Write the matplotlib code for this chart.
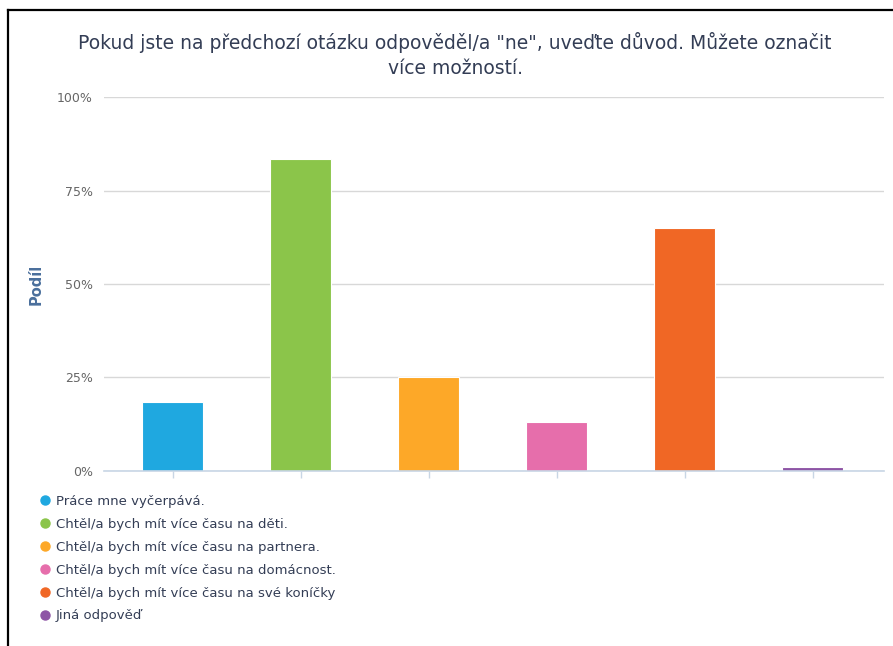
import matplotlib.pyplot as plt
from matplotlib.lines import Line2D
from matplotlib.ticker import FuncFormatter

# ── Survey data ──────────────────────────────────────────────────────────────
answers = [
    "Práce mne vyčerpává.",
    "Chtěl/a bych mít více času na děti.",
    "Chtěl/a bych mít více času na partnera.",
    "Chtěl/a bych mít více času na domácnost.",
    "Chtěl/a bych mít více času na své koníčky",
    "Jiná odpověď",
]
shares = [18.5, 83.4, 25.0, 13.0, 65.0, 1.1]
colors = ["#1fa8e0", "#8bc54a", "#fda828", "#e66eab", "#f06725", "#8e55a6"]
yticks = [0, 25, 50, 75, 100]

TITLE = ('Pokud jste na předchozí otázku odpověděl/a "ne", uveďte důvod. Můžete označit\n'
         "více možností.")

_TEXT = "#333d55"
_MUTED = "#666666"
_GRID = "#d8d8d8"
_AXIS = "#c8d6e5"

plt.rcParams["font.family"] = ["DejaVu Sans"]

fig = plt.figure(figsize=(8.93, 6.46), dpi=100)
fig.patch.set_facecolor("white")

# frame lines on the left and top edge
fig.add_artist(Line2D([8 / 893, 8 / 893], [0, 1 - 10 / 646], color="black",
                      linewidth=1.6, transform=fig.transFigure))
fig.add_artist(Line2D([8 / 893, 1], [1 - 10 / 646, 1 - 10 / 646], color="black",
                      linewidth=1.6, transform=fig.transFigure))

ax = fig.add_axes([104 / 893, 175.3 / 646, 780 / 893, 373.4 / 646])

x = list(range(len(shares)))
ax.bar(x, shares, width=0.48, color=colors, edgecolor="white", linewidth=0.8,
       zorder=3)

ax.set_xlim(-0.537, 5.557)
ax.set_ylim(0, 100)
ax.set_yticks(yticks)
ax.yaxis.set_major_formatter(FuncFormatter(lambda v, _: f"{v:.0f}%"))
ax.grid(axis="y", color=_GRID, linewidth=1.0, zorder=0)
ax.set_axisbelow(True)

for side in ("top", "right", "left"):
    ax.spines[side].set_visible(False)
ax.spines["bottom"].set_color(_AXIS)
ax.spines["bottom"].set_linewidth(1.2)
ax.spines["bottom"].set_zorder(4)

ax.set_xticks(x)
ax.set_xticklabels([])
ax.tick_params(axis="x", length=5, width=1, color=_AXIS, direction="out")
ax.tick_params(axis="y", length=0, pad=8, labelsize=9, labelcolor=_MUTED)

ax.set_ylabel("Podíl", fontsize=10.5, fontweight="bold", color="#4a6f9c")
ax.yaxis.set_label_coords(-0.078, 0.5)

fig.text(455 / 893, 1 - 55 / 646, TITLE, ha="center", va="center",
         fontsize=13.5, color=_TEXT, linespacing=1.4)

# legend with round markers, one row per answer
handles = [Line2D([], [], marker="o", linestyle="none", markersize=6.5,
                  markerfacecolor=c, markeredgecolor=c) for c in colors]
fig.legend(handles, answers, loc="upper left",
           bbox_to_anchor=(41 / 893, 1 - 495 / 646), frameon=False,
           fontsize=9.5, labelcolor=_TEXT, handlelength=0.6,
           handletextpad=0.5, labelspacing=0.75, borderpad=0, borderaxespad=0)

fig.savefig("out.png", dpi=100, facecolor="white")
